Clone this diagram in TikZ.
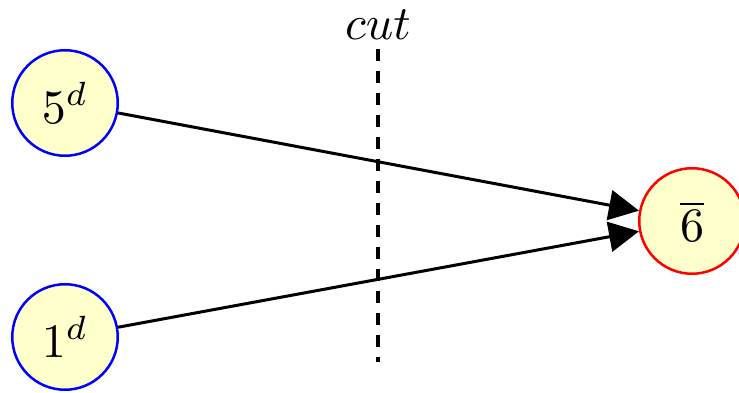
\documentclass[tikz,border=0pt]{standalone}
\usepackage{graphicx}
\usetikzlibrary{arrows.meta}
\definecolor{nodefill}{RGB}{255,255,204}
\newcommand{\bigtxt}[1]{\scalebox{4.8}{#1}}
\tikzset{
  rep/.style={circle, draw, line width=2.5pt, fill=nodefill, minimum size=105.5pt, inner sep=0pt},
  blrep/.style={rep, draw=blue},
  rdrep/.style={rep, draw=red},
  conn/.style={line width=3pt, -{Triangle[length=30pt,width=30pt]}},
  cutline/.style={line width=4.5pt, dash pattern=on 12pt off 10pt}
}
\begin{document}
\begin{tikzpicture}[x=1pt,y=1pt]
\useasboundingbox (0,0) rectangle (739,393);
\clip (0,0) rectangle (739,393);
\node[blrep] (a) at (65,290) {\bigtxt{$5^d$}};
\node[blrep] (b) at (65,56) {\bigtxt{$1^d$}};
\node[rdrep] (c) at (692,172) {\bigtxt{$\overline{6}$}};
\coordinate (ct) at (378,344);
\coordinate (cb) at (378,31);
\draw[cutline] (ct) -- (cb);
\node[anchor=base, inner sep=0pt] (lbl) at (378,353) {\bigtxt{$cut$}};
\draw[conn] (a) -- (c.169);
\draw[conn] (b) -- (c.191);
\end{tikzpicture}
\end{document}
